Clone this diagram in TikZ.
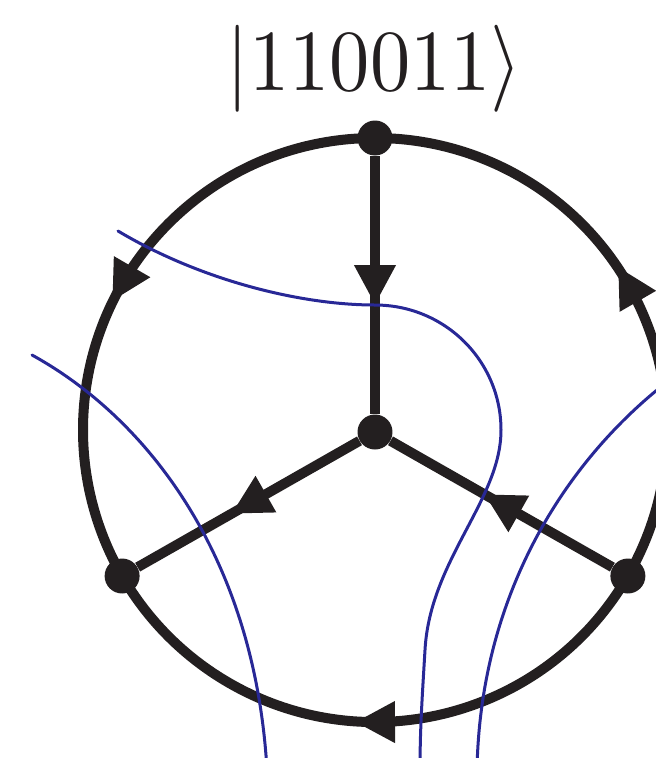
\documentclass[tikz,border=0pt]{standalone}
\usepackage{graphicx}
\usetikzlibrary{arrows.meta,decorations.markings,calc}
\definecolor{ink}{RGB}{35,31,32}
\definecolor{wire}{RGB}{40,40,150}
\begin{document}
\begin{tikzpicture}[x=0.02cm,y=0.02cm,
  dot/.style={circle,fill=ink,inner sep=0pt,minimum size=0.7cm},
  bond/.style={draw=ink,line width=0.2cm},
  midarrow/.style={postaction={decorate},decoration={markings,mark=at position 0.5 with {\arrow[xshift=0.4cm,ink]{Triangle[length=0.8cm,width=0.78cm]}}}},
  strand/.style={draw=wire,line width=0.06cm,line cap=round}]
\useasboundingbox (0,0) rectangle (656,-758);
\clip (0,0) rectangle (656,-758);
\coordinate (O) at (375,-430);
\node[text=ink] (title) at (374.5,-68.5) {\resizebox*{5.9cm}{1.74cm}{$|110011\rangle$}};
\node[dot] (top) at ($(O)+(90:292)$) {};
\node[dot] (left) at ($(O)+(210:292)$) {};
\node[dot] (right) at ($(O)+(330:292)$) {};
\node[dot] (ctr) at (375,-432) {};
\draw[bond,midarrow] (top.center) arc[start angle=90,end angle=210,radius=292];
\draw[bond,midarrow] (right.center) arc[start angle=-30,end angle=90,radius=292];
\draw[bond,midarrow] (right.center) arc[start angle=-30,end angle=-150,radius=292];
\draw[bond,midarrow] (top) -- (ctr);
\draw[bond,midarrow] (ctr) -- (left);
\draw[bond,midarrow] (right) -- (ctr);
\draw[strand] (118,-231) .. controls (200,-280) and (300,-305) .. (375,-305)
  .. controls (445,-305) and (501,-361) .. (501,-430)
  .. controls (501,-500) and (430,-560) .. (425,-650)
  .. controls (422,-700) and (420,-730) .. (420,-770);
\draw[strand] (32,-355) .. controls (150,-420) and (255,-560) .. (267,-770);
\draw[strand] (705,-350) -- (657,-390) .. controls (560,-470) and (480,-600) .. (477,-770);
\end{tikzpicture}
\end{document}
